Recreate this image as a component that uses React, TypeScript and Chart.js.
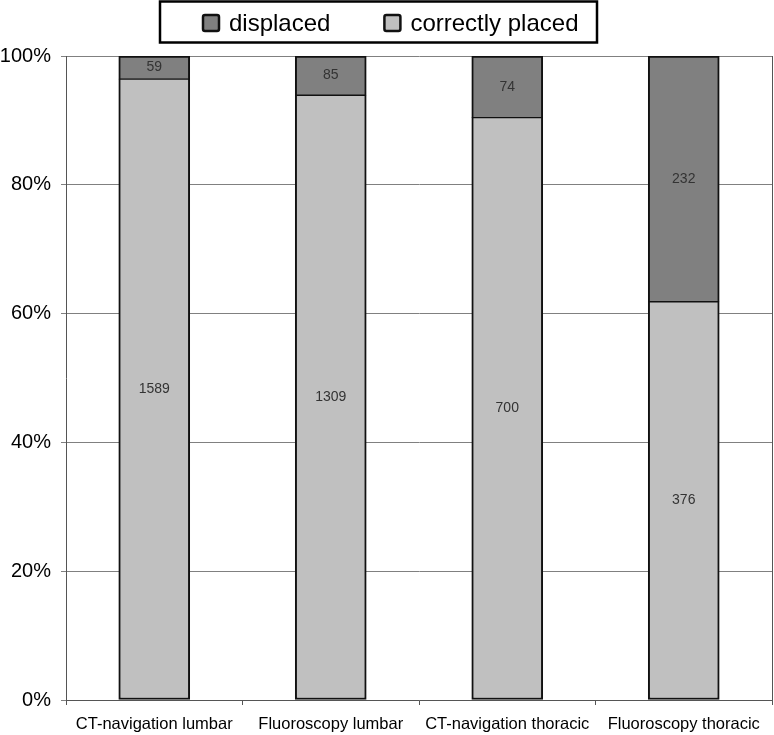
import React, { useEffect, useRef } from "react";
import { Chart, registerables } from "chart.js";

Chart.register(...registerables);

const categories = [
  "CT-navigation lumbar",
  "Fluoroscopy lumbar",
  "CT-navigation thoracic",
  "Fluoroscopy thoracic",
];
const displacedCounts = [59, 85, 74, 232];
const correctCounts = [1589, 1309, 700, 376];
const yTicks = [0, 20, 40, 60, 80, 100];
const seriesNames = ["displaced", "correctly placed"];

const DARK = "#808080";
const LIGHT = "#c0c0c0";
const FONT = "'Liberation Sans', Arial, sans-serif";

const totals = categories.map((_, i) => displacedCounts[i] + correctCounts[i]);
const correctPct = correctCounts.map((v, i) => (v / totals[i]) * 100);
const displacedPct = displacedCounts.map((v, i) => (v / totals[i]) * 100);

const labelsPlugin = {
  id: "segLabels",
  afterDatasetsDraw(chart: any) {
    const ctx = chart.ctx;
    ctx.save();
    ctx.font = `14px ${FONT}`;
    ctx.fillStyle = "#333";
    ctx.textAlign = "center";
    ctx.textBaseline = "middle";
    chart.data.datasets.forEach((ds: any, di: number) => {
      const meta = chart.getDatasetMeta(di);
      meta.data.forEach((el: any, i: number) => {
        const y = (el.y + el.base) / 2;
        ctx.fillText(String(ds.counts[i]), el.x, y);
      });
    });
    // right border of plot
    const a = chart.chartArea;
    ctx.strokeStyle = "#555";
    ctx.lineWidth = 1;
    ctx.beginPath();
    ctx.moveTo(a.right + 0.5, a.top);
    ctx.lineTo(a.right + 0.5, a.bottom);
    ctx.stroke();
    ctx.restore();
  },
};

const legendPlugin = {
  id: "boxLegend",
  afterDraw(chart: any) {
    const ctx = chart.ctx;
    ctx.save();
    ctx.strokeStyle = "#000";
    ctx.lineWidth = 2.5;
    ctx.strokeRect(160, 1.5, 437, 41);
    ctx.font = `24px ${FONT}`;
    ctx.textBaseline = "middle";
    ctx.textAlign = "left";
    const colors = [DARK, LIGHT];
    let x = 203;
    const cy = 23;
    seriesNames.forEach((name, i) => {
      const s = 16;
      ctx.beginPath();
      ctx.roundRect(x, cy - s / 2, s, s, 2);
      ctx.fillStyle = colors[i];
      ctx.fill();
      ctx.lineWidth = 2.5;
      ctx.strokeStyle = "#111";
      ctx.stroke();
      ctx.fillStyle = "#000";
      ctx.fillText(name, x + s + 10, cy + 1);
      const w = ctx.measureText(name).width;
      x = x + s + 10 + w + 54;
    });
    ctx.restore();
  },
};

export default function App() {
  const ref = useRef<HTMLCanvasElement | null>(null);
  useEffect(() => {
    if (!ref.current) return;
    const chart = new Chart(ref.current, {
      type: "bar",
      data: {
        labels: categories,
        datasets: [
          {
            label: seriesNames[1],
            data: correctPct,
            counts: correctCounts,
            backgroundColor: LIGHT,
            borderColor: "#111",
            borderWidth: { top: 1, bottom: 2, left: 2, right: 2 },
            borderSkipped: false,
            barThickness: 71,
          } as any,
          {
            label: seriesNames[0],
            data: displacedPct,
            counts: displacedCounts,
            backgroundColor: DARK,
            borderColor: "#111",
            borderWidth: { top: 2, bottom: 1, left: 2, right: 2 },
            borderSkipped: false,
            barThickness: 71,
          } as any,
        ],
      },
      options: {
        responsive: false,
        animation: false,
        layout: { padding: { top: 56, right: 2, left: 0, bottom: 0 } },
        plugins: {
          legend: { display: false },
          tooltip: { enabled: false },
        },
        scales: {
          x: {
            stacked: true,
            grid: {
              offset: true,
              drawOnChartArea: false,
              drawTicks: true,
              tickLength: 5,
              color: "#555",
            },
            border: { color: "#555", width: 1 },
            ticks: {
              color: "#000",
              font: { family: FONT, size: 16.5 },
              padding: 10,
              maxRotation: 0,
              autoSkip: false,
            },
            afterFit: (s: any) => {
              s.height = 35;
            },
          },
          y: {
            stacked: true,
            min: 0,
            max: 100,
            afterBuildTicks: (s: any) => {
              s.ticks = yTicks.map((v) => ({ value: v }));
            },
            grid: {
              color: "#808080",
              lineWidth: 1,
              drawTicks: true,
              tickLength: 5,
            },
            border: { color: "#555", width: 1 },
            ticks: {
              color: "#000",
              font: { family: FONT, size: 20 },
              padding: 10,
              callback: (v: any) => `${v}%`,
            },
            afterFit: (s: any) => {
              s.width = 66;
            },
          },
        },
      },
      plugins: [labelsPlugin, legendPlugin],
    } as any);
    return () => chart.destroy();
  }, []);
  return (
    <div style={{ position: "absolute", left: 0, top: 0, width: 774, height: 735, background: "#fff" }}>
      <canvas ref={ref} width={774} height={735} style={{ display: "block" }} />
    </div>
  );
}
